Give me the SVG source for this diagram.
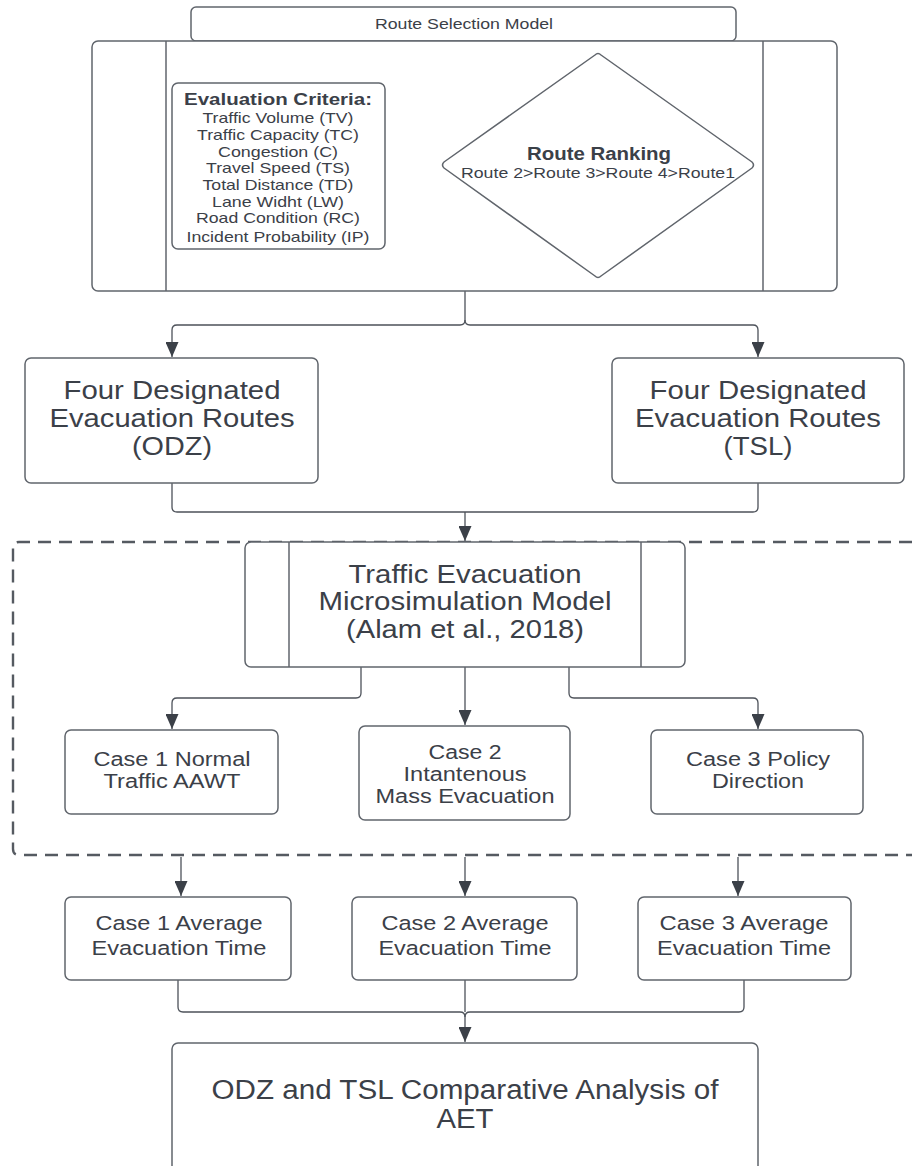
<svg xmlns="http://www.w3.org/2000/svg" width="912" height="1166" viewBox="0 0 912 1166">
<style>
.box{fill:#fff;stroke:#60656c;stroke-width:1.5}
.ln{fill:none;stroke:#60656c;stroke-width:1.5}
.con{fill:none;stroke:#4d525a;stroke-width:1.3}
.t{font-family:"Liberation Sans",Arial,sans-serif;fill:#3b4048;text-anchor:middle}
.b{font-weight:bold}
</style>
<defs>
<marker id="ah" viewBox="0 0 15 13" refX="15" refY="6.5" markerWidth="15" markerHeight="13" markerUnits="userSpaceOnUse" orient="auto">
<path d="M0,0 L15,6.5 L0,13 z" fill="#3b4048"/>
</marker>
</defs>
<rect width="912" height="1166" fill="#fff"/>

<g id="connectors">
<path class="con" d="M385,165 H441" marker-end="url(#ah)"/>
<path class="con" d="M465,291 V320 Q465,325 460,325 H177 Q172,325 172,330 V357" marker-end="url(#ah)"/>
<path class="con" d="M465,320 Q465,325 470,325 H753 Q758,325 758,330 V357" marker-end="url(#ah)"/>
<path class="con" d="M172,483 V507 Q172,512 177,512 H753 Q758,512 758,507 V483"/>
<path class="con" d="M465,512 V541" marker-end="url(#ah)"/>
<path class="con" d="M361,667 V693 Q361,698 356,698 H177 Q172,698 172,703 V729" marker-end="url(#ah)"/>
<path class="con" d="M465,667 V725" marker-end="url(#ah)"/>
<path class="con" d="M569,667 V693 Q569,698 574,698 H753 Q758,698 758,703 V729" marker-end="url(#ah)"/>
<path class="con" d="M181,857 V896" marker-end="url(#ah)"/>
<path class="con" d="M465,857 V896" marker-end="url(#ah)"/>
<path class="con" d="M738,857 V896" marker-end="url(#ah)"/>
<path class="con" d="M178,980 V1007 Q178,1012 183,1012 H460 Q465,1012 465,1017 V1042" marker-end="url(#ah)"/>
<path class="con" d="M465,980 V1012"/>
<path class="con" d="M744,980 V1007 Q744,1012 739,1012 H470 Q465,1012 465,1017"/>
</g>

<g id="dashed-group">
<path d="M912,542 H19 Q13,542 13,548 V849 Q13,855 19,855 H912" fill="none" stroke="#555a61" stroke-width="2.4" stroke-dasharray="13,8"/>
</g>

<g id="route-selection-title">
<rect class="box" x="191" y="7" width="545" height="34" rx="5"/>
<text class="t" x="464" y="29" font-size="15" textLength="178" lengthAdjust="spacingAndGlyphs">Route Selection Model</text>
</g>

<g id="route-selection-model">
<rect class="box" x="92" y="41" width="745" height="250" rx="6"/>
<line class="ln" x1="166" y1="41" x2="166" y2="291"/>
<line class="ln" x1="763" y1="41" x2="763" y2="291"/>
</g>

<g id="evaluation-criteria">
<rect class="box" x="172" y="83" width="213" height="166" rx="6"/>
<text class="t b" x="278" y="105" font-size="16.5" textLength="188" lengthAdjust="spacingAndGlyphs">Evaluation Criteria:</text>
<text class="t" x="278" y="123" font-size="15" textLength="151" lengthAdjust="spacingAndGlyphs">Traffic Volume (TV)</text>
<text class="t" x="278" y="140" font-size="15" textLength="162" lengthAdjust="spacingAndGlyphs">Traffic Capacity (TC)</text>
<text class="t" x="278" y="157" font-size="15" textLength="120" lengthAdjust="spacingAndGlyphs">Congestion (C)</text>
<text class="t" x="278" y="173" font-size="15" textLength="144" lengthAdjust="spacingAndGlyphs">Travel Speed (TS)</text>
<text class="t" x="278" y="190" font-size="15" textLength="151" lengthAdjust="spacingAndGlyphs">Total Distance (TD)</text>
<text class="t" x="278" y="207" font-size="15" textLength="132" lengthAdjust="spacingAndGlyphs">Lane Widht (LW)</text>
<text class="t" x="278" y="223" font-size="15" textLength="164" lengthAdjust="spacingAndGlyphs">Road Condition (RC)</text>
<text class="t" x="278" y="242" font-size="15" textLength="183" lengthAdjust="spacingAndGlyphs">Incident Probability (IP)</text>
</g>

<g id="route-ranking">
<path class="box" d="M595,55 Q598,52 601,55 L752,162 Q755,165 752,168 L601,276 Q598,279 595,276 L444,168 Q441,165 444,162 Z" stroke-linejoin="round"/>
<text class="t b" x="599" y="160" font-size="17.5" textLength="144" lengthAdjust="spacingAndGlyphs">Route Ranking</text>
<text class="t" x="598" y="178" font-size="15.5" textLength="274" lengthAdjust="spacingAndGlyphs">Route 2&gt;Route 3&gt;Route 4&gt;Route1</text>
</g>

<g id="odz-routes">
<rect class="box" x="25" y="358" width="293" height="125" rx="6"/>
<text class="t" x="172" y="399" font-size="25.5" textLength="217" lengthAdjust="spacingAndGlyphs">Four Designated</text>
<text class="t" x="172" y="427" font-size="25.5" textLength="245" lengthAdjust="spacingAndGlyphs">Evacuation Routes</text>
<text class="t" x="172" y="455" font-size="25.5" textLength="80" lengthAdjust="spacingAndGlyphs">(ODZ)</text>
</g>

<g id="tsl-routes">
<rect class="box" x="612" y="358" width="292" height="125" rx="6"/>
<text class="t" x="758" y="399" font-size="25.5" textLength="217" lengthAdjust="spacingAndGlyphs">Four Designated</text>
<text class="t" x="758" y="427" font-size="25.5" textLength="246" lengthAdjust="spacingAndGlyphs">Evacuation Routes</text>
<text class="t" x="758" y="455" font-size="25.5" textLength="69" lengthAdjust="spacingAndGlyphs">(TSL)</text>
</g>

<g id="microsimulation-model">
<rect class="box" x="245" y="542" width="440" height="125" rx="6"/>
<line class="ln" x1="289" y1="542" x2="289" y2="667"/>
<line class="ln" x1="641" y1="542" x2="641" y2="667"/>
<text class="t" x="465" y="583" font-size="25.5" textLength="233" lengthAdjust="spacingAndGlyphs">Traffic Evacuation</text>
<text class="t" x="465" y="610" font-size="25.5" textLength="293" lengthAdjust="spacingAndGlyphs">Microsimulation Model</text>
<text class="t" x="465" y="638" font-size="25.5" textLength="238" lengthAdjust="spacingAndGlyphs">(Alam et al., 2018)</text>
</g>

<g id="case1">
<rect class="box" x="65" y="730" width="213" height="84" rx="6"/>
<text class="t" x="172" y="766" font-size="20" textLength="157" lengthAdjust="spacingAndGlyphs">Case 1 Normal</text>
<text class="t" x="172" y="788" font-size="20" textLength="137" lengthAdjust="spacingAndGlyphs">Traffic AAWT</text>
</g>

<g id="case2">
<rect class="box" x="359" y="726" width="211" height="94" rx="6"/>
<text class="t" x="465" y="759" font-size="20" textLength="73" lengthAdjust="spacingAndGlyphs">Case 2</text>
<text class="t" x="465" y="781" font-size="20" textLength="123" lengthAdjust="spacingAndGlyphs">Intantenous</text>
<text class="t" x="465" y="803" font-size="20" textLength="179" lengthAdjust="spacingAndGlyphs">Mass Evacuation</text>
</g>

<g id="case3">
<rect class="box" x="651" y="730" width="212" height="84" rx="6"/>
<text class="t" x="758" y="766" font-size="20" textLength="144" lengthAdjust="spacingAndGlyphs">Case 3 Policy</text>
<text class="t" x="758" y="788" font-size="20" textLength="92" lengthAdjust="spacingAndGlyphs">Direction</text>
</g>

<g id="case1-aet">
<rect class="box" x="65" y="897" width="226" height="83" rx="6"/>
<text class="t" x="179" y="930" font-size="20.5" textLength="167" lengthAdjust="spacingAndGlyphs">Case 1 Average</text>
<text class="t" x="179" y="955" font-size="20.5" textLength="175" lengthAdjust="spacingAndGlyphs">Evacuation Time</text>
</g>

<g id="case2-aet">
<rect class="box" x="352" y="897" width="225" height="83" rx="6"/>
<text class="t" x="465" y="930" font-size="20.5" textLength="167" lengthAdjust="spacingAndGlyphs">Case 2 Average</text>
<text class="t" x="465" y="955" font-size="20.5" textLength="173" lengthAdjust="spacingAndGlyphs">Evacuation Time</text>
</g>

<g id="case3-aet">
<rect class="box" x="638" y="897" width="213" height="83" rx="6"/>
<text class="t" x="744" y="930" font-size="20.5" textLength="169" lengthAdjust="spacingAndGlyphs">Case 3 Average</text>
<text class="t" x="744" y="955" font-size="20.5" textLength="174" lengthAdjust="spacingAndGlyphs">Evacuation Time</text>
</g>

<g id="comparative-analysis">
<rect class="box" x="172" y="1043" width="586" height="130" rx="6"/>
<text class="t" x="465" y="1099" font-size="27" textLength="507" lengthAdjust="spacingAndGlyphs">ODZ and TSL Comparative Analysis of</text>
<text class="t" x="465" y="1128" font-size="27" textLength="57" lengthAdjust="spacingAndGlyphs">AET</text>
</g>
</svg>
